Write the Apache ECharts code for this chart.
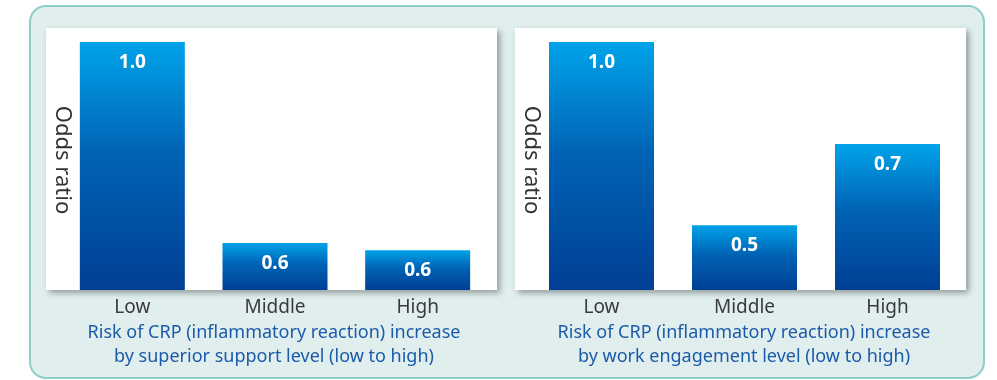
<!DOCTYPE html>
<html><head><meta charset="utf-8">
<script src="https://cdn.jsdelivr.net/npm/echarts@6/dist/echarts.min.js"></script>
<style>html,body{margin:0;padding:0;background:#fff}#c{width:997px;height:380px}</style>
</head><body><div id="c"></div>
<script>
const categories = ['Low', 'Middle', 'High'];
const supportValues = [1.0, 0.595, 0.58];
const engagementValues = [1.0, 0.483, 0.712];
const yName = 'Odds ratio';
const titleLeft = ['Risk of CRP (inflammatory reaction) increase', 'by superior support level (low to high)'];
const titleRight = ['Risk of CRP (inflammatory reaction) increase', 'by work engagement level (low to high)'];

const FONT = '"Noto Sans", "Open Sans", sans-serif';
const grad = new echarts.graphic.LinearGradient(0, 0, 0, 1, [
  {offset: 0, color: '#00a3e9'},
  {offset: 0.45, color: '#0063b5'},
  {offset: 1, color: '#003f95'}
]);
function barSeries(data, idx) {
  return {
    type: 'bar', xAxisIndex: idx, yAxisIndex: idx, data: data, barWidth: 105,
    itemStyle: {color: grad},
    label: {show: true, position: 'insideTop', distance: 11, color: '#fff', fontSize: 19,
      fontWeight: 'bold', fontFamily: FONT, formatter: p => p.value.toFixed(1)}
  };
}
function xAx(idx) {
  return {gridIndex: idx, type: 'category', data: categories,
    axisLine: {show: false}, axisTick: {show: false},
    axisLabel: {color: '#3a3a3a', fontSize: 19, fontFamily: FONT, margin: 8}};
}
function yAx(idx, min) {
  return {gridIndex: idx, type: 'value', min: min, max: 1.0,
    axisLine: {show: false}, axisTick: {show: false}, axisLabel: {show: false}, splitLine: {show: false}};
}
function panel(x) {
  return {type: 'rect', shape: {x: x, y: 28, width: 451, height: 262}, z: -5,
    style: {fill: '#fff', shadowBlur: 6, shadowOffsetX: 3, shadowOffsetY: 3, shadowColor: 'rgba(0,0,0,0.35)'}};
}
function txt(text, x, y, color, size, rot) {
  return {type: 'text', x: x, y: y, rotation: rot || 0, z: 5,
    style: {text: text, fill: color, font: size + 'px ' + FONT, align: 'center', verticalAlign: 'middle'}};
}
const chart = echarts.init(document.getElementById('c'), null, {renderer: 'canvas'});
chart.setOption({
  animation: false,
  backgroundColor: '#fff',
  grid: [
    {left: 61, width: 428, top: 42, height: 248},
    {left: 530, width: 429, top: 42, height: 248}
  ],
  xAxis: [xAx(0), xAx(1)],
  yAxis: [yAx(0, 0.5), yAx(1, 0.3)],
  series: [barSeries(supportValues, 0), barSeries(engagementValues, 1)],
  graphic: [
    {type: 'rect', shape: {x: 30, y: 6, width: 954, height: 372, r: 16}, z: -10,
      style: {fill: '#e0efee', stroke: '#8dcfc7', lineWidth: 2}},
    panel(46), panel(515),
    txt(yName, 62, 160, '#333', 22, -Math.PI / 2),
    txt(yName, 531, 160, '#333', 22, -Math.PI / 2),
    txt(titleLeft[0], 274, 333, '#1c5aaa', 18),
    txt(titleLeft[1], 274, 357, '#1c5aaa', 18),
    txt(titleRight[0], 744, 333, '#1c5aaa', 18),
    txt(titleRight[1], 744, 357, '#1c5aaa', 18)
  ]
});
</script></body></html>
